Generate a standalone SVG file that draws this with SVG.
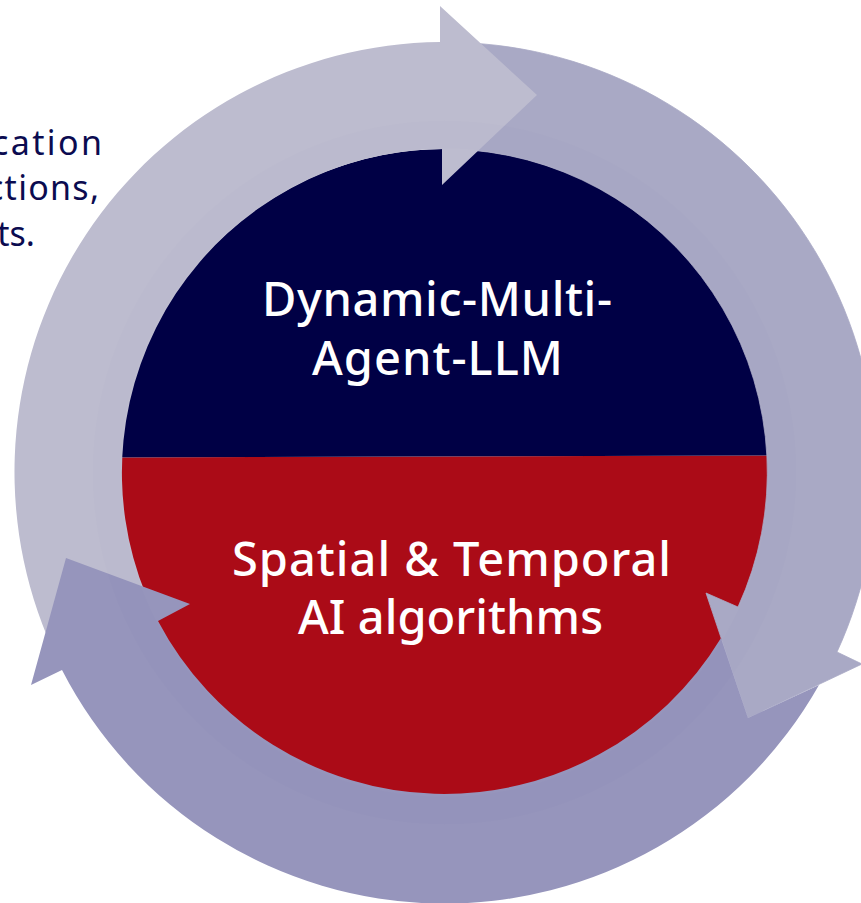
<svg xmlns="http://www.w3.org/2000/svg" width="861" height="903" viewBox="0 0 861 903">
  <style>
    .big { font-family: "Noto Sans", "Liberation Sans", sans-serif; font-size: 47px; font-weight: 500; fill: #ffffff; text-anchor: middle; font-variant-ligatures: none; }
    .side { font-family: "Noto Sans", "Liberation Sans", sans-serif; font-size: 34px; fill: #0b0b50; text-anchor: end; font-variant-ligatures: none; }
    .light { fill: #bdbccf; }
    .medium { fill: #a9a9c5; stroke: #a9a9c5; stroke-width: 0.8; }
    .dark { fill: #9695bc; }
    .halo { fill: none; stroke: #000045; stroke-opacity: 0.008; stroke-width: 28; }
  </style>
  <defs>
    <clipPath id="upper"><polygon points="100,100 800,100 800,455.500 100,457.500"/></clipPath>
    <clipPath id="lower"><polygon points="100,457.500 800,455.500 800,820 100,820"/></clipPath>
  </defs>
  <rect width="861" height="903" fill="#ffffff"/>
  <g id="side-text">
    <text class="side" x="102" y="155" textLength="110">cation</text>
    <text class="side" x="99" y="200" textLength="112">ctions,</text>
    <text class="side" x="35" y="246">ts.</text>
  </g>
  <g id="core">
    <circle id="core-bottom" fill="#ab0b17" cx="444.500" cy="472.500" r="323.500" clip-path="url(#lower)"/>
    <circle id="core-top" fill="#000045" cx="444.500" cy="472.500" r="323.500" clip-path="url(#upper)"/>
  </g>
  <g id="connectors">
    <path id="arrow-medium" class="medium" d="M470,43 A430,430 0 0 1 837,652 L862,664 L748,718 L706,593 L738,607 A323.500,323.500 0 0 0 470,150 Z"/>
    <path id="arrow-light" class="light" d="M47,636 A430,430 0 0 1 440,42 L440,6 L537,95 L442,185 L442,149 A323.500,323.500 0 0 0 146,595 Z"/>
    <path id="arrow-dark" class="dark" d="M748,718 L819,685 A430,430 0 0 1 62,670 L31,685 L66,558 L190,604 L158,621 A323.500,323.500 0 0 0 721,638 Z"/>
    <circle class="halo" cx="444.500" cy="472.500" r="338"/>
  </g>
  <g id="labels">
    <text class="big" x="437" y="316" textLength="350">Dynamic-Multi-</text>
    <text class="big" x="437.500" y="375" textLength="251">Agent-LLM</text>
    <text class="big" x="451.500" y="576" textLength="439">Spatial &amp; Temporal</text>
    <text class="big" x="450.500" y="634" textLength="305">AI algorithms</text>
  </g>
</svg>
